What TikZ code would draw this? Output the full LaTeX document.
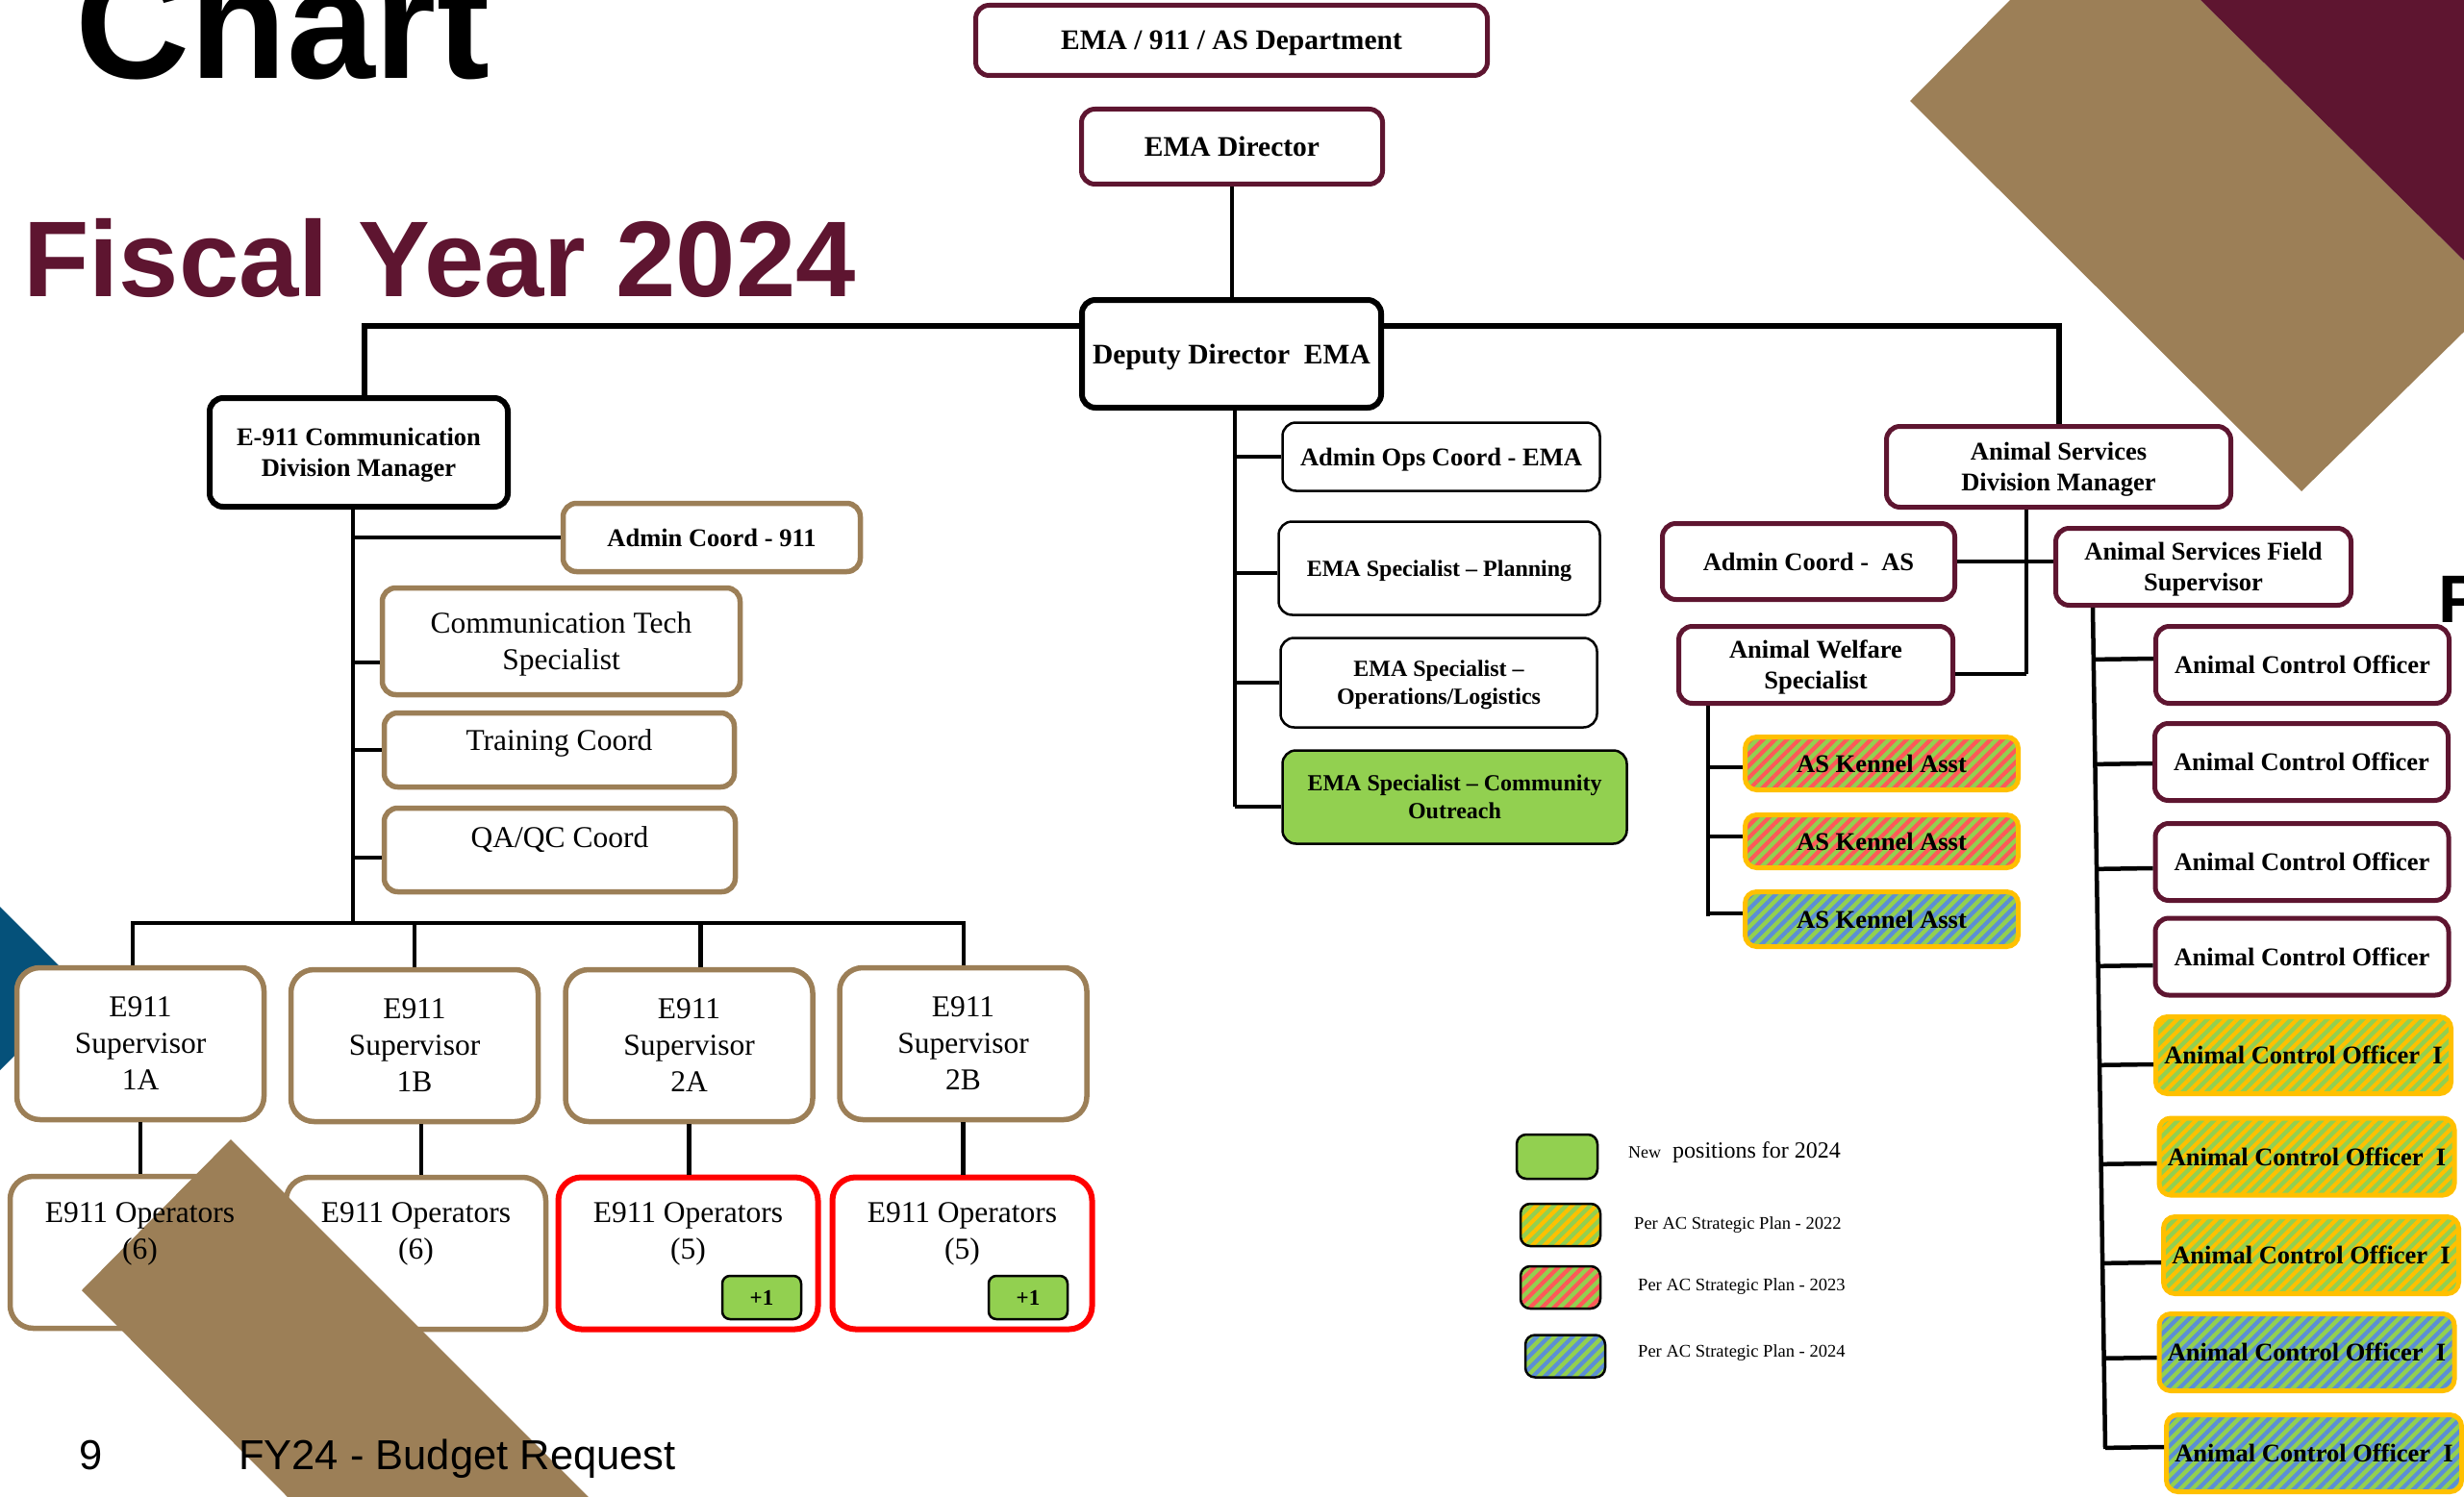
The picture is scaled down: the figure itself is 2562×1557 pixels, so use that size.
\documentclass[tikz,border=0pt]{standalone}
\usepackage{fontspec}
\setmainfont{Liberation Serif}
\newfontfamily\arialf{Liberation Sans}
\usetikzlibrary{patterns.meta,calc}
\definecolor{maroon}{RGB}{94,21,48}
\definecolor{tanc}{RGB}{156,127,87}
\definecolor{blueb}{RGB}{5,81,122}
\definecolor{gr}{RGB}{146,208,80}
\definecolor{orng}{RGB}{255,192,0}
\definecolor{rstripe}{RGB}{255,88,88}
\definecolor{bstripe}{RGB}{91,142,214}
\newcommand\fsz[2]{\fontsize{#1}{#2}\selectfont}
\tikzset{
 bx/.style={rounded corners=14pt, align=center, inner sep=0pt, text=black, text depth=0pt},
 box/.style={bx, fill=white},
 mb/.style={box, draw=maroon, line width=5pt},
 tb/.style={box, draw=tanc, line width=5.5pt},
 kb/.style={box, draw=black, line width=2.5pt},
 kk/.style={box, draw=black, line width=6pt},
 rb/.style={box, draw=red, line width=6pt},
 sz/.style 2 args={minimum width=#1pt, minimum height=#2pt},
 bold29/.style={font=\fsz{29.5}{35}\bfseries},
 bold26/.style={font=\fsz{26.5}{32}\bfseries},
 bold24/.style={font=\fsz{24}{29}\bfseries},
 reg31/.style={font=\fsz{31.5}{38}, align=center},
 stripe/.style={bx, preaction={fill=gr}, pattern={Lines[angle=45,distance=8.8pt,line width=4.2pt]}, pattern color=#1},
 ks/.style={stripe=#1, draw=orng, line width=5pt, rounded corners=12pt},
 sup/.style={tb, rounded corners=24pt, sz={257}{158}, reg31},
 opb/.style={rounded corners=24pt, sz={270}{158}},
 gb/.style={box, fill=gr, draw=black, line width=2.5pt, rounded corners=8pt, sz={82}{45}, font=\fsz{23}{27}\bfseries},
 lg/.style={draw=black, line width=2.5pt, rounded corners=10pt, sz={83}{44}},
 conn/.style={line width=4.5pt, draw=black},
 txt/.style={anchor=base west, inner sep=0pt},
}
\begin{document}
\begin{tikzpicture}[x=1pt,y=-1pt]
\useasboundingbox (0,0) rectangle (2562,1557);
\fill[white] (0,0) rectangle (2562,1557);
% decorations behind
\fill[blueb] (0,943) -- (85,1028) -- (0,1113) -- cycle;
\fill[tanc] (2090,0) -- (2288,0) -- (2562,271) -- (2562,345) -- (2393,511) -- (1986,105) -- cycle;
\fill[maroon] (2288,0) -- (2562,0) -- (2562,271) -- cycle;
% titles
\node[txt, font=\arialf\bfseries\fsz{165}{172}] (ttl) at (78,82) {Chart};
\node[txt, text=maroon, font=\arialf\bfseries\fsz{112}{120}] (fy) at (24,308) {Fiscal Year 2024};
\node[txt, font=\arialf\bfseries\fsz{70}{80}] (pp) at (2535,647) {P};
% top
\node[mb, sz={532}{73}, bold29] (dept) at (1280.5,42) {EMA / 911 / AS Department};
\node[mb, sz={313}{78}, bold29] (dir) at (1281,152.5) {EMA Director};
\node[kk, sz={311}{112}, bold29] (dep) at (1280.5,368) {Deputy Director\ \ EMA};
% E-911
\node[kk, sz={310}{113}, bold26] (e911m) at (373,470.5) {E-911 Communication\\Division Manager};
\node[tb, sz={309}{71}, bold26] (adm911) at (740,559) {Admin Coord - 911};
\node[tb, sz={372}{111}, reg31] (ctech) at (583.5,667) {Communication Tech\\Specialist};
\node[tb, sz={364}{77}] (train) at (581.5,780) {};
\node[reg31] (traint) at (581.5,773) {Training Coord};
\node[tb, sz={365}{87}] (qaqc) at (582,884) {};
\node[reg31] (qaqct) at (582,873) {QA/QC Coord};
\node[sup] (sup1A) at (146,1085.5) {E911\\Supervisor\\1A};
\node[sup] (sup1B) at (431,1087.5) {E911\\Supervisor\\1B};
\node[sup] (sup2A) at (716.5,1087.5) {E911\\Supervisor\\2A};
\node[sup] (sup2B) at (1001.5,1085.5) {E911\\Supervisor\\2B};
\node[tb, opb] (op1A) at (145.5,1302.5) {};
\node[tb, opb] (op1B) at (432.5,1303.5) {};
\node[rb, opb] (op2A) at (715.5,1303.5) {};
\node[rb, opb] (op2B) at (1000.5,1303.5) {};
\node[reg31] (op2At) at (715.5,1283) {E911 Operators\\(5)};
\node[reg31] (op2Bt) at (1000.5,1283) {E911 Operators\\(5)};
\node[gb] (p2A) at (792,1349.5) {+1};
\node[gb] (p2B) at (1069,1349.5) {+1};
% EMA
\node[kb, sz={330}{71}, bold26] (adops) at (1498.5,475) {Admin Ops Coord - EMA};
\node[kb, sz={334}{97}, bold24] (plan) at (1496.5,591) {EMA Specialist – Planning};
\node[kb, sz={329}{93}, bold24] (opslog) at (1496,710) {EMA Specialist –\\Operations/Logistics};
\node[kb, sz={358}{97}, bold24, fill=gr] (comm) at (1512.5,829) {EMA Specialist – Community\\Outreach};
% Animal services
\node[mb, sz={358}{84}, bold26] (asdm) at (2140.5,485.5) {Animal Services\\Division Manager};
\node[mb, sz={304}{79}, bold26] (admas) at (1880.5,584) {Admin Coord -\ \ AS};
\node[mb, sz={307}{80}, bold26] (field) at (2291,589.5) {Animal Services Field\\Supervisor};
\node[mb, sz={285}{80}, bold26] (welfare) at (1888,691.5) {Animal Welfare\\Specialist};
\node[ks=rstripe, sz={284}{55}, bold26] (ken1) at (1956.5,794) {AS Kennel Asst};
\node[ks=rstripe, sz={284}{55}, bold26] (ken2) at (1956.5,875) {AS Kennel Asst};
\node[ks=bstripe, sz={284}{57}, bold26] (ken3) at (1956.5,956) {AS Kennel Asst};
\node[mb, sz={305}{80}, bold26] (aco1) at (2394,691.5) {Animal Control Officer};
\node[mb, sz={305}{80}, bold26] (aco2) at (2393,792.5) {Animal Control Officer};
\node[mb, sz={305}{80}, bold26] (aco3) at (2393.5,896.5) {Animal Control Officer};
\node[mb, sz={305}{80}, bold26] (aco4) at (2393.5,995) {Animal Control Officer};
\node[ks=orng, sz={307}{80}, bold26] (aco5) at (2395,1097.5) {Animal Control Officer\ \ I};
\node[ks=orng, sz={307}{80}, bold26] (aco6) at (2398.5,1203) {Animal Control Officer\ \ I};
\node[ks=orng, sz={307}{80}, bold26] (aco7) at (2403,1305.5) {Animal Control Officer\ \ I};
\node[ks=bstripe, sz={307}{80}, bold26] (aco8) at (2398.5,1406.5) {Animal Control Officer\ \ I};
\node[ks=bstripe, sz={307}{80}, bold26] (aco9) at (2406,1511.5) {Animal Control Officer\ \ I};
% legend
\node[box, fill=gr, lg, sz={84}{46}] (lg1) at (1619,1203) {};
\node[stripe=orng, lg] (lg2) at (1622.5,1274) {};
\node[stripe=rstripe, lg] (lg3) at (1622.5,1339) {};
\node[stripe=bstripe, lg] (lg4) at (1627.5,1410.5) {};
\node[txt, font=\fsz{24}{28}] (lt1) at (1693,1204) {{\fsz{18}{20}New}\hspace{12pt}positions for 2024};
\node[txt, font=\fsz{18.5}{22}] (lt2) at (1699,1278) {Per AC Strategic Plan - 2022};
\node[txt, font=\fsz{18.5}{22}] (lt3) at (1703,1342) {Per AC Strategic Plan - 2023};
\node[txt, font=\fsz{18.5}{22}] (lt4) at (1703,1411) {Per AC Strategic Plan - 2024};
% connectors
\coordinate (jl) at (379,339);
\coordinate (jr) at (2141,339);
\draw[conn] (dir.south) -- (dir.south |- dep.north);
\draw[conn, line width=5.5pt] (dep.west |- jl) -- (jl) -- (jl |- e911m.north);
\draw[conn, line width=5.5pt] (dep.east |- jr) -- (jr) -- (jr |- asdm.north);
\coordinate (dt) at (1284,839);
\draw[conn] (dep.south -| dt) -- (dt);
\draw[conn] (adops.west) -- (adops.west -| dt);
\draw[conn] ([yshift=-5pt]plan.west) -- ([yshift=-5pt]plan.west -| dt);
\draw[conn] (opslog.west) -- (opslog.west -| dt);
\draw[conn] ([yshift=-10pt]comm.west) -- ([yshift=-10pt]comm.west -| dt);
\coordinate (et) at (367,960);
\draw[conn] (e911m.south -| et) -- (et);
\draw[conn] (adm911.west) -- (adm911.west -| et);
\draw[conn] ([yshift=-22pt]ctech.west) -- ([yshift=-22pt]ctech.west -| et);
\draw[conn] (train.west) -- (train.west -| et);
\draw[conn] ([yshift=-8pt]qaqc.west) -- ([yshift=-8pt]qaqc.west -| et);
\coordinate (b4) at (1002,960);
\draw[conn] ([xshift=-8pt]sup1A.north) |- (b4) -- (b4 |- sup2B.north);
\draw[conn] (sup1B.north) -- (sup1B.north |- b4);
\draw[conn] ([xshift=12pt]sup2A.north) -- ([xshift=12pt]sup2A.north |- b4);
\draw[conn] (sup1A.south) -- (sup1A.south |- op1A.north);
\draw[conn] ([xshift=7pt]sup1B.south) -- ([xshift=7pt]sup1B.south |- op1B.north);
\draw[conn] (sup2A.south) -- (sup2A.south |- op2A.north);
\draw[conn] (sup2B.south) -- (sup2B.south |- op2B.north);
\coordinate (at) at (2107,701);
\draw[conn] (asdm.south -| at) -- (at);
\draw[conn] (admas.east) -- (admas.east -| field.west);
\draw[conn] ([yshift=-9.5pt]welfare.east) -- ([yshift=-9.5pt]welfare.east -| at);
\coordinate (kt) at (1776,953);
\draw[conn] (welfare.south -| kt) -- (kt);
\draw[conn] ([yshift=-4pt]ken1.west) -- ([yshift=-4pt]ken1.west -| kt);
\draw[conn] ([yshift=5pt]ken2.west) -- ([yshift=5pt]ken2.west -| kt);
\draw[conn] ([yshift=6pt]ken3.west) -- ([yshift=6pt]ken3.west -| kt);
\coordinate (acot) at (2176,632);
\coordinate (acob) at (2189,1507);
\draw[conn] (acot) -- (acob);
\foreach \n/\s in {aco1/6.5,aco2/-1.5,aco3/-6.5,aco4/-9,aco5/-9.5,aco6/-7,aco7/-7.5,aco8/-5.5,aco9/6.5}{
  \draw[conn] ([yshift=\s pt]\n.west) -- ($(acot)!([yshift=\s pt]\n.west)!(acob)$);
}
% front decoration
\fill[tanc] (240,1185) -- (612,1557) -- (299,1557) -- (85,1342) -- cycle;
\node[reg31] (op1At) at (145.5,1283) {E911 Operators\\(6)};
\node[reg31] (op1Bt) at (432.5,1283) {E911 Operators\\(6)};
\node[txt, font=\arialf\fsz{43.5}{50}] (pg) at (82,1528) {9};
\node[txt, font=\arialf\fsz{43.5}{50}] (fyb) at (248,1528) {FY24 - Budget Request};
\end{tikzpicture}
\end{document}
